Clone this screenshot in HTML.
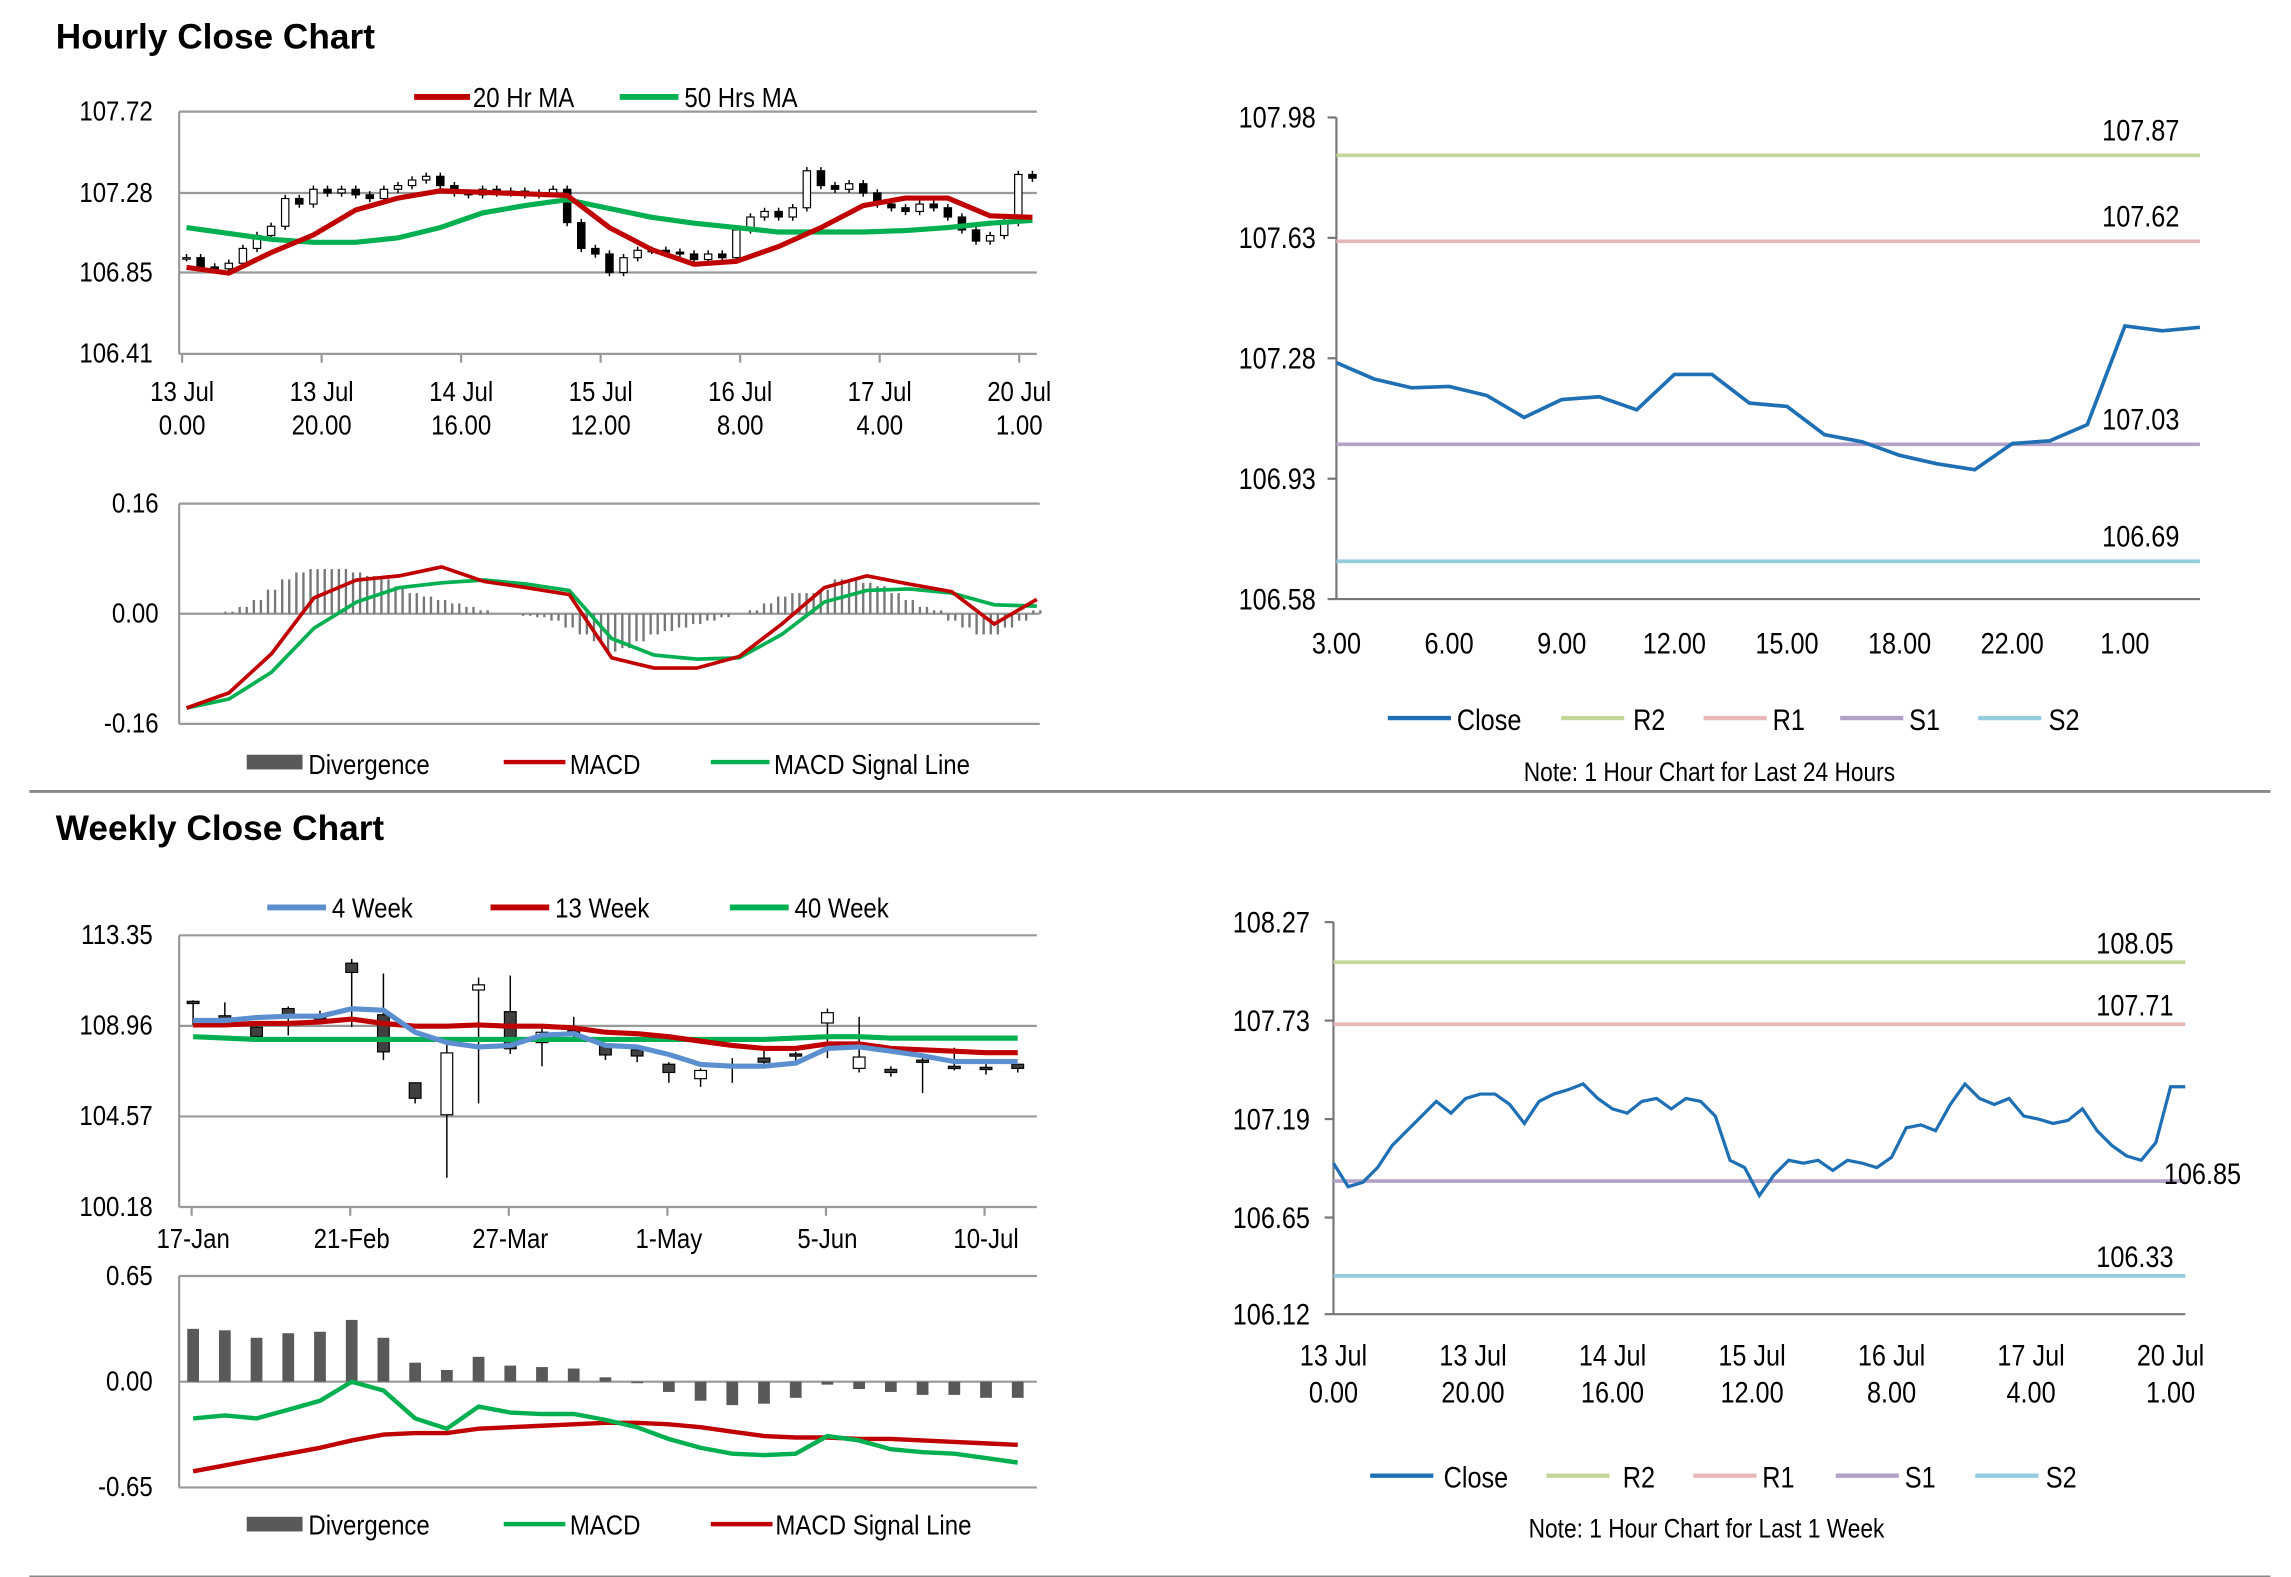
<!DOCTYPE html>
<html><head><meta charset="utf-8"><style>
html,body{margin:0;padding:0;background:#fff;}
svg{display:block;}
text{font-family:"Liberation Sans Narrow","Liberation Sans",sans-serif;fill:#000;}
.h{font-family:"Liberation Sans",sans-serif;font-weight:bold;font-size:24px;}
</style></head><body>
<svg id="s" xmlns="http://www.w3.org/2000/svg" width="2291" height="1577" viewBox="0 0 1560 1074" preserveAspectRatio="none">
<text class="h" x="38" y="33">Hourly Close Chart</text>
<text class="h" x="38" y="572">Weekly Close Chart</text>
<line x1="20" y1="539" x2="1546" y2="539" stroke="#888" stroke-width="2"/>
<line x1="20" y1="1074" x2="1546" y2="1074" stroke="#888" stroke-width="2"/>
</svg>
<script>
// ---------- data ----------
const hourlyXLabels1=["13 Jul","13 Jul","14 Jul","15 Jul","16 Jul","17 Jul","20 Jul"];
const hourlyXLabels2=["0.00","20.00","16.00","12.00","8.00","4.00","1.00"];
const hourlyYTicks=[107.72,107.28,106.85,106.41];
const hourlyClose=[106.93,106.88,106.87,106.9,106.98,107.05,107.1,107.25,107.22,107.3,107.28,107.3,107.27,107.25,107.3,107.32,107.35,107.37,107.32,107.28,107.27,107.3,107.28,107.29,107.27,107.28,107.3,107.12,106.98,106.95,106.85,106.93,106.97,106.97,106.96,106.95,106.92,106.95,106.93,107.08,107.15,107.18,107.15,107.2,107.4,107.32,107.3,107.33,107.28,107.22,107.2,107.18,107.22,107.2,107.15,107.08,107.02,107.05,107.12,107.38,107.36];
const ma20=[106.878,106.847,106.958,107.053,107.188,107.252,107.291,107.283,107.275,107.267,107.093,106.974,106.894,106.91,106.99,107.093,107.212,107.252,107.252,107.156,107.148];
const ma50=[107.093,107.061,107.029,107.013,107.013,107.037,107.093,107.172,107.212,107.244,107.196,107.148,107.117,107.093,107.069,107.069,107.069,107.077,107.093,107.117,107.132];
const hMacdTicks=[0.16,0.00,-0.16];
const hMacd=[-0.137,-0.115,-0.058,0.023,0.049,0.055,0.068,0.047,0.038,0.028,-0.064,-0.079,-0.079,-0.062,-0.015,0.038,0.055,0.043,0.032,-0.015,0.021];
const hSignal=[-0.137,-0.124,-0.085,-0.021,0.017,0.038,0.045,0.049,0.043,0.034,-0.036,-0.06,-0.066,-0.064,-0.03,0.017,0.034,0.036,0.03,0.013,0.011];
const hDiv=[0,0,0,0.3,1,2,3.5,5,6,6.5,6.5,6.5,6,5.5,5,4,3,2.5,2,1.5,1,0.5,0,0,-0.3,-0.5,-1,-2,-3,-4,-5.5,-5,-4,-3,-2.5,-2,-1.5,-1,-0.5,0,0.5,1.5,2.5,3,3,3.5,5,5,4.5,4,3,2,1,0.5,-1,-2,-3,-3,-2,-1,0.5];

const h24Labels=["3.00","6.00","9.00","12.00","15.00","18.00","22.00","1.00"];
const h24Ticks=[107.98,107.63,107.28,106.93,106.58];
const h24Close=[107.267,107.22,107.194,107.198,107.172,107.108,107.16,107.168,107.13,107.233,107.233,107.15,107.14,107.058,107.037,106.998,106.973,106.956,107.032,107.04,107.087,107.374,107.36,107.37];
const h24Levels=[107.87,107.62,107.03,106.69];

const wLabels=["17-Jan","21-Feb","27-Mar","1-May","5-Jun","10-Jul"];
const wTicks=[113.35,108.96,104.57,100.18];
const wOpen =[110.15,109.45,108.9,109.8,109.45,112.0,109.5,106.2,104.65,110.7,109.65,108.15,108.75,108.0,107.8,107.1,106.4,107.05,107.4,107.6,109.1,106.9,106.85,107.3,107.0,106.95,107.1];
const wClose=[110.1,109.2,108.45,109.4,109.3,111.55,107.7,105.45,107.65,110.95,107.85,108.65,108.6,107.55,107.5,106.7,106.8,106.95,107.2,107.5,109.6,107.45,106.7,107.25,106.95,106.85,106.9];
const wHigh =[110.2,110.1,109.0,109.9,109.7,112.2,111.5,106.2,108.2,111.3,111.4,108.9,109.4,108.1,107.9,107.2,106.9,107.4,107.8,107.7,109.8,109.4,107.0,107.5,107.9,107.3,107.1];
const wLow  =[109.0,109.0,108.4,108.5,109.1,108.9,107.3,105.2,101.6,105.2,107.6,107.0,108.2,107.3,107.2,106.2,106.0,106.2,107.0,107.1,107.4,106.7,106.5,105.7,106.8,106.6,106.7];
const w4=[109.22,109.22,109.36,109.43,109.43,109.79,109.72,108.65,108.15,107.94,108.01,108.51,108.58,108.01,107.94,107.58,107.09,107.01,107.01,107.16,107.87,107.94,107.73,107.51,107.23,107.23,107.23];
const w13=[109.01,109.01,109.08,109.08,109.15,109.29,109.08,108.94,108.94,109.01,108.94,108.94,108.86,108.65,108.58,108.44,108.22,108.01,107.87,107.87,108.08,108.08,107.87,107.8,107.73,107.66,107.66];
const w40=[108.44,108.37,108.3,108.3,108.3,108.3,108.3,108.3,108.3,108.3,108.3,108.3,108.3,108.3,108.3,108.3,108.3,108.3,108.3,108.37,108.44,108.44,108.37,108.37,108.37,108.37,108.37];
const wMacdTicks=[0.65,0.00,-0.65];
const wDiv=[0.325,0.316,0.27,0.298,0.307,0.38,0.27,0.117,0.072,0.153,0.099,0.09,0.081,0.027,-0.009,-0.063,-0.117,-0.144,-0.135,-0.099,-0.018,-0.045,-0.063,-0.081,-0.081,-0.099,-0.099];
const wMacd=[-0.226,-0.208,-0.226,-0.172,-0.117,0,-0.054,-0.226,-0.289,-0.153,-0.19,-0.199,-0.199,-0.235,-0.28,-0.352,-0.406,-0.442,-0.451,-0.442,-0.334,-0.361,-0.415,-0.433,-0.442,-0.469,-0.497];
const wSignal=[-0.551,-0.515,-0.478,-0.442,-0.406,-0.361,-0.325,-0.316,-0.316,-0.289,-0.28,-0.271,-0.262,-0.253,-0.253,-0.262,-0.28,-0.307,-0.334,-0.343,-0.343,-0.352,-0.352,-0.361,-0.37,-0.379,-0.388];

const wkLine=[106.948,106.819,106.843,106.924,107.045,107.126,107.206,107.287,107.222,107.303,107.327,107.327,107.27,107.166,107.287,107.327,107.351,107.383,107.303,107.246,107.222,107.287,107.303,107.246,107.303,107.287,107.206,106.964,106.924,106.771,106.884,106.964,106.948,106.964,106.908,106.964,106.948,106.924,106.98,107.142,107.158,107.126,107.27,107.383,107.303,107.27,107.303,107.206,107.19,107.166,107.182,107.246,107.126,107.045,106.988,106.964,107.061,107.367,107.367];
const wkLabels1=["13 Jul","13 Jul","14 Jul","15 Jul","16 Jul","17 Jul","20 Jul"];
const wkLabels2=["0.00","20.00","16.00","12.00","8.00","4.00","1.00"];
const wkTicks=[108.27,107.73,107.19,106.65,106.12];
const wkLevels=[108.05,107.71,106.85,106.33];

// ---------- helpers ----------
const S=document.getElementById('s');const NS='http://www.w3.org/2000/svg';
function mk(tag,attrs){const e=document.createElementNS(NS,tag);for(const k in attrs)e.setAttribute(k,attrs[k]);S.appendChild(e);return e;}
function lin(d0,d1,r0,r1){return v=>r0+(v-d0)*(r1-r0)/(d1-d0);}
function txt(x,y,s,anchor,size){const e=mk('text',{x:0,y:0,'text-anchor':anchor||'start','font-size':size||19,transform:'translate('+x+','+y+') scale(0.86,1)'});e.textContent=s;return e;}
function path(pts){return pts.map((p,i)=>(i?'L':'M')+p[0].toFixed(1)+' '+p[1].toFixed(1)).join(' ');}
const levelColors=['#c4d79b','#e6b9b8','#b3a2c7','#93cddd'];
const levelNames=['r2','r1','s1','s2'];

// ===== Hourly candle chart =====
{
 const x=lin(0,60,127,703), y=lin(107.72,106.41,76,241);
 hourlyYTicks.forEach((v,i)=>{let g=mk('line',{x1:122,x2:706,y1:y(v),y2:y(v),stroke:'#999','stroke-width':1.5});
  
  let t=txt(104,y(v)+6,v.toFixed(2),'end');});
 let ax=mk('line',{x1:122,x2:122,y1:76,y2:241,stroke:'#999','stroke-width':1.5});
 
 hourlyXLabels1.forEach((l,i)=>{const px=124+i*95;
  let tk=mk('line',{x1:px,x2:px,y1:241,y2:247,stroke:'#999','stroke-width':1.5});
  
  let t=txt(px,273,l,'middle');
  let t2=txt(px,296,hourlyXLabels2[i],'middle');});
 hourlyClose.forEach((c,i)=>{const o=i?hourlyClose[i-1]:c;const hi=Math.max(o,c)+0.02,lo=Math.min(o,c)-0.02;
  let w=mk('line',{x1:x(i),x2:x(i),y1:y(hi),y2:y(lo),stroke:'#000','stroke-width':1});
  
  const top=y(Math.max(o,c)),bot=y(Math.min(o,c));
  let b=mk('rect',{x:x(i)-2.5,y:top,width:5,height:Math.max(1,bot-top),fill:c>=o?'#fff':'#000',stroke:'#000','stroke-width':0.8});
  });
 let p1=mk('path',{d:path(ma50.map((v,i)=>[x(i*3),y(v)])),fill:'none',stroke:'#00b050','stroke-width':3.5});
 
 let p2=mk('path',{d:path(ma20.map((v,i)=>[x(i*3),y(v)])),fill:'none',stroke:'#c00000','stroke-width':3.5});
 
 let l1=mk('line',{x1:282,x2:320,y1:66,y2:66,stroke:'#c00000','stroke-width':4});
 let lt1=txt(322,73,'20 Hr MA');
 let l2=mk('line',{x1:422,x2:462,y1:66,y2:66,stroke:'#00b050','stroke-width':4});
 let lt2=txt(466,73,'50 Hrs MA');
}
// ===== Hourly MACD =====
{
 const x=lin(0,60,127,706), y=lin(0.16,-0.16,343,493);
 hMacdTicks.forEach(v=>{let g=mk('line',{x1:122,x2:708,y1:y(v),y2:y(v),stroke:'#999','stroke-width':1.5});
  
  let t=txt(108,y(v)+6,v.toFixed(2),'end');});
 let ax=mk('line',{x1:122,x2:122,y1:343,y2:493,stroke:'#999','stroke-width':1.5});
 hDiv.forEach((v,i)=>{for(let k=0;k<2;k++){const xx=x(i)+k*4.8-2.4;
  let b=mk('line',{x1:xx,x2:xx,y1:y(0),y2:y(v/100),stroke:'#777','stroke-width':1.6});
  }});
 let g=mk('path',{d:path(hSignal.map((v,i)=>[x(i*3),y(v)])),fill:'none',stroke:'#00b050','stroke-width':2.5});
 let r=mk('path',{d:path(hMacd.map((v,i)=>[x(i*3),y(v)])),fill:'none',stroke:'#c00000','stroke-width':2.5});
 let a=mk('rect',{x:168,y:514,width:38,height:10,fill:'#595959'});
 let at=txt(210,527,'Divergence');
 let b=mk('line',{x1:343,x2:385,y1:519,y2:519,stroke:'#c00000','stroke-width':3});
 let bt=txt(388,527,'MACD');
 let c=mk('line',{x1:484,x2:524,y1:519,y2:519,stroke:'#00b050','stroke-width':3});
 let ct=txt(527,527,'MACD Signal Line');
}
// ===== 24h chart =====
{
 const x=lin(0,23,910,1498), y=lin(107.98,106.58,80,408);
 let ax=mk('line',{x1:910,x2:910,y1:80,y2:408,stroke:'#777','stroke-width':1.5});
 let bx=mk('line',{x1:910,x2:1498,y1:408,y2:408,stroke:'#777','stroke-width':1.5});
 h24Ticks.forEach(v=>{let tk=mk('line',{x1:904,x2:910,y1:y(v),y2:y(v),stroke:'#777','stroke-width':1.5});
  let t=txt(896,y(v)+7,v.toFixed(2),'end',20);});
 h24Labels.forEach((l,i)=>{let t=txt(x(i*3),445,l,'middle',20);});
 h24Levels.forEach((v,i)=>{let l=mk('line',{x1:910,x2:1498,y1:y(v),y2:y(v),stroke:levelColors[i],'stroke-width':2.5});
  
  let t=txt(1484,y(v)-10,v.toFixed(2),'end',20);});
 let p=mk('path',{d:path(h24Close.map((v,i)=>[x(i),y(v)])),fill:'none',stroke:'#1f6fb5','stroke-width':2.5});
 const lg=[['Close','#1f6fb5',945,992],['R2',levelColors[0],1063,1112],['R1',levelColors[1],1160,1207],['S1',levelColors[2],1253,1300],['S2',levelColors[3],1347,1395]];
 lg.forEach(e=>{let l=mk('line',{x1:e[2],x2:e[2]+43,y1:489,y2:489,stroke:e[1],'stroke-width':3});
  let t=txt(e[3],497,e[0],'start',20);});
 let n=txt(1164,532,'Note: 1 Hour Chart for Last 24 Hours','middle',18);
}
// ===== Weekly candle chart =====
{
 const x=lin(0,26,131.5,693), y=lin(113.35,100.18,637,822);
 wTicks.forEach(v=>{let g=mk('line',{x1:122,x2:706,y1:y(v),y2:y(v),stroke:'#999','stroke-width':1.5});
  let t=txt(104,y(v)+6,v.toFixed(2),'end');});
 let ax=mk('line',{x1:122,x2:122,y1:637,y2:822,stroke:'#999','stroke-width':1.5});
 wLabels.forEach((l,i)=>{const px=x(i*5);let tk=mk('line',{x1:px-1,x2:px-1,y1:822,y2:828,stroke:'#999','stroke-width':1.5});
  let t=txt(px,850,l,'middle');});
 wOpen.forEach((o,i)=>{const c=wClose[i];
  let w=mk('line',{x1:x(i),x2:x(i),y1:y(wHigh[i]),y2:y(wLow[i]),stroke:'#000','stroke-width':1});
  const top=y(Math.max(o,c)),bot=y(Math.min(o,c));
  let b=mk('rect',{x:x(i)-4,y:top,width:8,height:Math.max(1.5,bot-top),fill:c>=o?'#fff':'#404040',stroke:'#000','stroke-width':0.8});});
 [[w40,'#00b050','ma-40-week-line'],[w13,'#c00000','ma-13-week-line'],[w4,'#5b8fcf','ma-4-week-line']].forEach(s=>{
  let p=mk('path',{d:path(s[0].map((v,i)=>[x(i),y(v)])),fill:'none',stroke:s[1],'stroke-width':3.5});});
 const lg=[['4 Week','#5b8fcf',182,226],['13 Week','#c00000',334,378],['40 Week','#00b050',497,541]];
 lg.forEach(e=>{let l=mk('line',{x1:e[2],x2:e[2]+40,y1:618,y2:618,stroke:e[1],'stroke-width':4});
  let t=txt(e[3],625,e[0]);});
}
// ===== Weekly MACD =====
{
 const x=lin(0,26,131.5,693), y=lin(0.65,-0.65,869,1013);
 wMacdTicks.forEach(v=>{let g=mk('line',{x1:122,x2:706,y1:y(v),y2:y(v),stroke:'#999','stroke-width':1.5});
  let t=txt(104,y(v)+6,v.toFixed(2),'end');});
 let ax=mk('line',{x1:122,x2:122,y1:869,y2:1013,stroke:'#999','stroke-width':1.5});
 wDiv.forEach((v,i)=>{const a=y(Math.max(v,0)),b=y(Math.min(v,0));
  let r=mk('rect',{x:x(i)-4,y:a,width:8,height:Math.max(1,b-a),fill:'#595959'});});
 let r=mk('path',{d:path(wSignal.map((v,i)=>[x(i),y(v)])),fill:'none',stroke:'#c00000','stroke-width':3});
 let g=mk('path',{d:path(wMacd.map((v,i)=>[x(i),y(v)])),fill:'none',stroke:'#00b050','stroke-width':3});
 let a=mk('rect',{x:168,y:1033,width:38,height:10,fill:'#595959'});
 let at=txt(210,1045,'Divergence');
 let b=mk('line',{x1:343,x2:385,y1:1038,y2:1038,stroke:'#00b050','stroke-width':3});
 let bt=txt(388,1045,'MACD');
 let c=mk('line',{x1:484,x2:526,y1:1038,y2:1038,stroke:'#c00000','stroke-width':3});
 let ct=txt(528,1045,'MACD Signal Line');
}
// ===== 1 week hourly chart =====
{
 const x=lin(0,58,908,1488), y=lin(108.27,106.12,628,895);
 let ax=mk('line',{x1:908,x2:908,y1:628,y2:895,stroke:'#777','stroke-width':1.5});
 let bx=mk('line',{x1:908,x2:1488,y1:895,y2:895,stroke:'#777','stroke-width':1.5});
 wkTicks.forEach(v=>{let tk=mk('line',{x1:902,x2:908,y1:y(v),y2:y(v),stroke:'#777','stroke-width':1.5});
  let t=txt(892,y(v)+7,v.toFixed(2),'end',20);});
 wkLabels1.forEach((l,i)=>{const px=908+i*95;let t=txt(px,930,l,'middle',20);
  let t2=txt(px,955,wkLabels2[i],'middle',20);});
 wkLevels.forEach((v,i)=>{let l=mk('line',{x1:908,x2:1488,y1:y(v),y2:y(v),stroke:levelColors[i],'stroke-width':2.5});
  let t=i==2?txt(1526,y(v)+2,v.toFixed(2),'end',20):txt(1480,y(v)-6,v.toFixed(2),'end',20);});
 let p=mk('path',{d:path(wkLine.map((v,i)=>[x(i),y(v)])),fill:'none',stroke:'#1f6fb5','stroke-width':2.2});
 const lg=[['Close','#1f6fb5',933,983],['R2',levelColors[0],1053,1105],['R1',levelColors[1],1153,1200],['S1',levelColors[2],1250,1297],['S2',levelColors[3],1345,1393]];
 lg.forEach(e=>{let l=mk('line',{x1:e[2],x2:e[2]+43,y1:1005,y2:1005,stroke:e[1],'stroke-width':3});
  let t=txt(e[3],1013,e[0],'start',20);});
 let n=txt(1162,1047,'Note: 1 Hour Chart for Last 1 Week','middle',18);
}
</script>
</body></html>
